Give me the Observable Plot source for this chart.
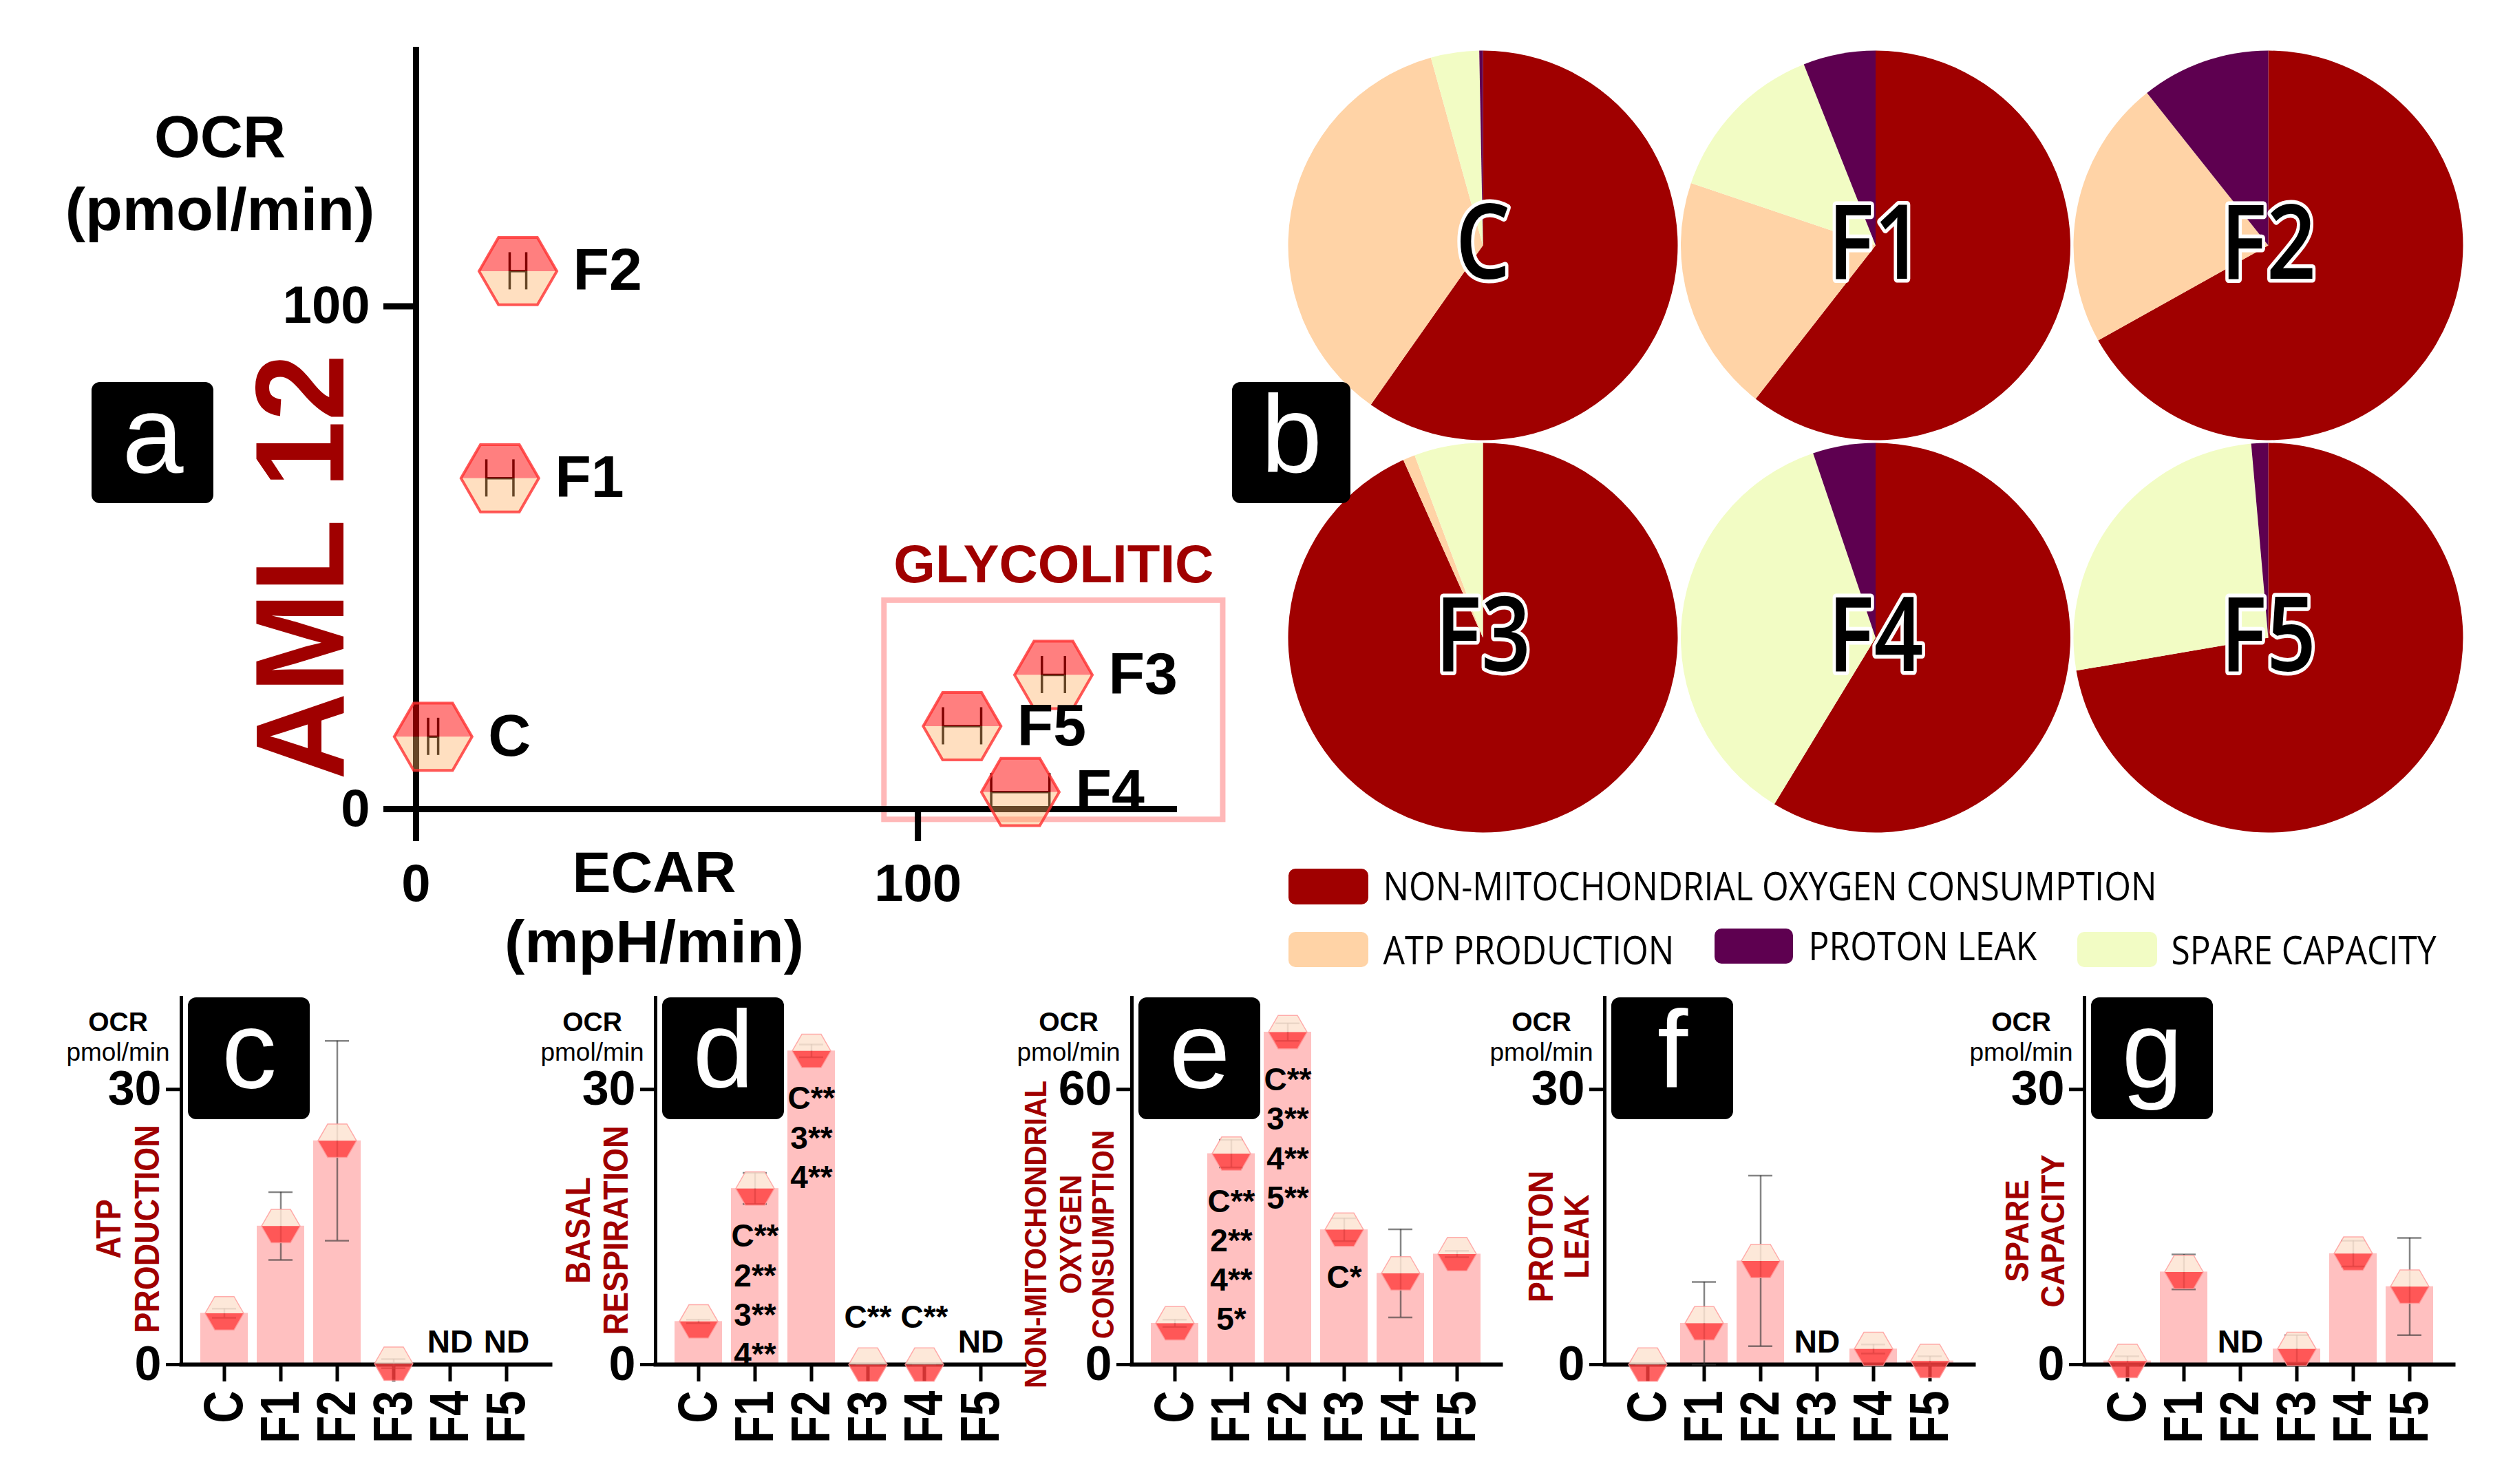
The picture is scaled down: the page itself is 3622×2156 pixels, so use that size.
<!DOCTYPE html>
<html><head><meta charset="utf-8">
<script src="https://cdn.jsdelivr.net/npm/d3@7"></script>
<script src="https://cdn.jsdelivr.net/npm/@observablehq/plot@0.6"></script>
<style>
html,body{margin:0;padding:0;background:#fff;overflow:hidden;}
#fig{position:relative;width:3622px;height:2156px;overflow:hidden;background:#fff;}
#fig > svg{position:absolute;left:0;top:0;}
</style></head><body><div id="fig"></div>
<script>
// ================= DATA =================
const groups = ["C", "F1", "F2", "F3", "F4", "F5"];

// panel a : ECAR (x) vs OCR (y)
const ecar    = [3.4, 16.7, 20.3, 127.0, 120.4, 108.8];
const ecarErr = [1.0, 2.7, 1.65, 2.3, 5.8, 3.8];
const ocr     = [14.4, 65.8, 107.0, 26.7, 3.4, 16.5];
const aTicks  = [0, 100];

// panel b : pies (percent of total OCR)
const pieNonMito = [59.7, 60.5, 66.9, 93.3, 58.7, 72.3];
const pieATP     = [35.9, 19.6, 22.4, 1.0, 0, 0];
const pieSpare   = [4.0, 13.8, 0, 5.7, 36.1, 26.3];
const pieProton  = [0.3, 6.0, 10.7, 0, 5.2, 1.4];
const partNames  = ["NON-MITOCHONDRIAL OXYGEN CONSUMPTION", "ATP PRODUCTION", "PROTON LEAK", "SPARE CAPACITY"];
const partColors = ["#a00000", "#ffd3a6", "#5e0050", "#f2fcc4"];

// panels c-g : OCR (pmol/min), mean and error ; null = ND
const atp        = [5.6, 15.1, 24.4, 0.1, null, null];
const atpErr     = [0.5, 3.7, 10.9, 0.5, null, null];
const basal      = [4.7, 19.2, 34.2, 0, 0, null];
const basalErr   = [0.2, 1.7, 0.7, 0, 0.1, null];
const nonMito    = [9.0, 46.0, 72.5, 29.4, 19.9, 24.1];
const nonMitoErr = [0.8, 3.0, 1.9, 2.5, 9.6, 0.7];
const proton     = [0, 4.5, 11.3, null, 1.7, 0.4];
const protonErr  = [0, 4.5, 9.3, null, 0.5, 0.5];
const spare      = [0.4, 10.1, null, 1.7, 12.1, 8.5];
const spareErr   = [0.5, 1.9, null, 1.5, 1.4, 5.3];

// significance annotations
const basalSig   = [["F1", "C**\n2**\n3**\n4**"], ["F2", "C**\n3**\n4**"], ["F3", "C**"], ["F4", "C**"]];
const nonMitoSig = [["F1", "C**\n2**\n4**\n5*"], ["F2", "C**\n3**\n4**\n5**"], ["F3", "C*"]];

// ================= LAYOUT =================
const W = 3622, H = 2156;
const FONT = "'Liberation Sans', Arial, Helvetica, sans-serif";
const OPEN = "'Open Sans', 'Noto Sans', sans-serif";
const RED = "#a00000";
const fig = document.getElementById("fig");
const baseStyle = {background: "transparent", overflow: "visible", fontFamily: FONT, maxWidth: "none"};

const S3 = Math.sqrt(3) / 2;
const rad = (size) => Math.sqrt(size / Math.PI);
const hexTop = {draw(c, s) {const r = rad(s); c.moveTo(r, 0); c.lineTo(r / 2, -r * S3); c.lineTo(-r / 2, -r * S3); c.lineTo(-r, 0); c.closePath();}};
const hexBot = {draw(c, s) {const r = rad(s); c.moveTo(r, 0); c.lineTo(r / 2, r * S3); c.lineTo(-r / 2, r * S3); c.lineTo(-r, 0); c.closePath();}};
const hexAll = {draw(c, s) {const r = rad(s); c.moveTo(r, 0); c.lineTo(r / 2, r * S3); c.lineTo(-r / 2, r * S3); c.lineTo(-r, 0); c.lineTo(-r / 2, -r * S3); c.lineTo(r / 2, -r * S3); c.closePath();}};
function sector(a0, a1) {
  return {draw(c, s) {const r = rad(s); c.moveTo(0, 0); c.arc(0, 0, r, a0 - Math.PI / 2, a1 - Math.PI / 2); c.closePath();}};
}
// condense text horizontally (in its own frame) after Plot has rendered it;
// texts are picked by their content
function squeeze(svg, labels, sx) {
  const set = new Set(labels);
  d3.select(svg).selectAll("text").each(function () {
    if (!set.has(this.textContent)) return;
    let t = this.getAttribute("transform");
    if (!t) {
      const x = +this.getAttribute("x") || 0, y = +this.getAttribute("y") || 0;
      this.removeAttribute("x"); this.removeAttribute("y");
      t = `translate(${x},${y})`;
    }
    this.setAttribute("transform", `${t} scale(${sx},1)`);
  });
  return svg;
}

// ================= PANEL a =================
const aPts = groups.map((g, i) => ({g, x: ecar[i], y: ocr[i], e: ecarErr[i]}));
const aCaps = aPts.flatMap(d => [{x: d.x - d.e, y: d.y}, {x: d.x + d.e, y: d.y}]);
const glyco = {x1: 93.3, x2: 160.8, y1: -2.1, y2: 41.5, label: "GLYCOLITIC"};
const plotA = Plot.plot({
  width: W, height: H,
  marginLeft: 604, marginRight: W - 1705, marginTop: 72, marginBottom: H - 1175,
  style: baseStyle,
  x: {domain: [0, 151], axis: null},
  y: {domain: [0, 151], axis: null},
  marks: [
    Plot.rect([glyco], {x1: "x1", x2: "x2", y1: "y1", y2: "y2", fill: "none", stroke: "#ffb8b8", strokeWidth: 8}),
    Plot.text([glyco], {x: d => (d.x1 + d.x2) / 2, y: "y2", text: "label", dy: -26, lineAnchor: "bottom", fill: RED, fontSize: 78, fontWeight: "bold"}),
    Plot.frame({anchor: "left", strokeWidth: 9}),
    Plot.frame({anchor: "bottom", strokeWidth: 9}),
    Plot.axisX({ticks: aTicks, tickSize: 47, tickPadding: 33, strokeWidth: 9, fontSize: 76, fontWeight: "bold", label: null, tickFormat: d => d}),
    Plot.axisY({ticks: aTicks, tickSize: 47, tickPadding: 20, strokeWidth: 9, fontSize: 76, fontWeight: "bold", label: null, tickFormat: d => d}),
    Plot.ruleY(aPts, {x1: d => d.x - d.e, x2: d => d.x + d.e, y: "y", stroke: "black", strokeWidth: 3.5}),
    Plot.ruleX(aCaps, {x: "x", y1: "y", y2: "y", insetTop: -27, insetBottom: -27, stroke: "black", strokeWidth: 3.5}),
    Plot.dot(aPts, {x: "x", y: "y", r: 56.5, symbol: hexTop, fill: "#ff0000", fillOpacity: 0.5}),
    Plot.dot(aPts, {x: "x", y: "y", r: 56.5, symbol: hexBot, fill: "#ffaf61", fillOpacity: 0.4}),
    Plot.dot(aPts, {x: "x", y: "y", r: 56.5, symbol: hexAll, fill: "none", stroke: "#ff3030", strokeOpacity: 0.8, strokeWidth: 4}),
    Plot.text(aPts, {x: "x", y: "y", text: "g", dx: 80, textAnchor: "start", fontSize: 86, fontWeight: "bold", fill: "black"})
  ]
});

// ================= PANEL b (pies) =================
const pies = groups.map((g, i) => ({g, col: i % 3, row: Math.floor(i / 3),
  parts: [[pieNonMito[i], partColors[0]], [pieATP[i], partColors[1]], [pieSpare[i], partColors[3]], [pieProton[i], partColors[2]]]}));
const pieMarks = [];
for (const p of pies) {
  const total = d3.sum(p.parts, d => d[0]);
  let a = 0;
  for (const [v, color] of p.parts) {
    if (!v) continue;
    const a1 = a + (v / total) * 2 * Math.PI;
    pieMarks.push(Plot.dot([p], {x: "col", y: "row", r: 283, symbol: sector(a, a1), fill: color}));
    a = a1;
  }
}
const plotB = squeeze(Plot.plot({
  width: W, height: H,
  style: baseStyle,
  x: {domain: [0, 2], range: [2154, 3295], axis: null},
  y: {domain: [0, 1], range: [356, 926], axis: null},
  marks: [
    ...pieMarks,
    Plot.text(pies, {x: "col", y: "row", text: "g", fontSize: 150, fontWeight: 600, fontFamily: OPEN, fill: "black", stroke: "white", strokeWidth: 11, paintOrder: "stroke", lineAnchor: "middle"})
  ]
}), groups, 0.84);

// ================= PANELS c-g =================
const barPanels = [
  {letter: "c", vals: atp, errs: atpErr, max: 40, tick: 30, A: 263, title: ["ATP", "PRODUCTION"], titleDx: [-105, -49], titleY: 1785, titleSize: 50, sig: []},
  {letter: "d", vals: basal, errs: basalErr, max: 40, tick: 30, A: 952, title: ["BASAL", "RESPIRATION"], titleDx: [-112, -57], titleY: 1787, titleSize: 50, sig: basalSig},
  {letter: "e", vals: nonMito, errs: nonMitoErr, max: 80, tick: 60, A: 1644, title: ["NON-MITOCHONDRIAL", "OXYGEN", "CONSUMPTION"], titleDx: [-139, -88, -41], titleY: 1793, titleSize: 45, sig: nonMitoSig},
  {letter: "f", vals: proton, errs: protonErr, max: 40, tick: 30, A: 2331, title: ["PROTON", "LEAK"], titleDx: [-92, -40], titleY: 1796, titleSize: 50, sig: []},
  {letter: "g", vals: spare, errs: spareErr, max: 40, tick: 30, A: 3028, title: ["SPARE", "CAPACITY"], titleDx: [-97, -45], titleY: 1788, titleSize: 49, sig: []}
];
const BASE = 1982, TOP = 1449, PW = 536;

function barPlot(p) {
  const data = groups.map((g, i) => ({g, v: p.vals[i], e: p.errs[i]}));
  const has = data.filter(d => d.v != null);
  const nd = data.filter(d => d.v == null).map(d => ({g: d.g, t: "ND"}));
  const sig = p.sig.map(([g, t]) => ({g, t, v: p.vals[groups.indexOf(g)]}));
  const sigIn = sig.filter(d => d.v >= 2), sigAbove = sig.filter(d => d.v < 2);
  const svg = Plot.plot({
    width: W, height: H,
    marginLeft: p.A, marginRight: W - (p.A + PW), marginTop: TOP, marginBottom: H - BASE,
    style: baseStyle,
    x: {domain: groups, paddingInner: 0.16, paddingOuter: 0, insetLeft: 27, insetRight: 29, axis: null},
    y: {domain: [0, p.max], axis: null},
    marks: [
      Plot.barY(has, {x: "g", y: "v", fill: "#ffc0c0"}),
      Plot.frame({anchor: "left", strokeWidth: 5}),
      Plot.frame({anchor: "bottom", strokeWidth: 6}),
      Plot.axisY({ticks: [0, p.tick], tickSize: 22, tickPadding: 7, strokeWidth: 5, fontSize: 70, fontWeight: "bold", label: null, tickFormat: d => d}),
      Plot.axisX({tickSize: 25, tickPadding: 13, tickRotate: -90, strokeWidth: 5, fontSize: 80, fontWeight: "bold", label: null}),
      Plot.ruleX(has, {x: "g", y1: d => d.v - d.e, y2: d => d.v + d.e, stroke: "#333", strokeOpacity: 0.6, strokeWidth: 2.5}),
      Plot.tickY(has, {x: "g", y: d => d.v + d.e, insetLeft: 17, insetRight: 17, stroke: "#333", strokeOpacity: 0.6, strokeWidth: 2.5}),
      Plot.tickY(has, {x: "g", y: d => d.v - d.e, insetLeft: 17, insetRight: 17, stroke: "#333", strokeOpacity: 0.6, strokeWidth: 2.5}),
      Plot.dot(has, {x: "g", y: "v", r: 28, symbol: hexTop, fill: "#fde4d2", fillOpacity: 0.85}),
      Plot.dot(has, {x: "g", y: "v", r: 28, symbol: hexBot, fill: "#ff4040", fillOpacity: 0.82}),
      Plot.dot(has, {x: "g", y: "v", r: 28, symbol: hexAll, fill: "none", stroke: "#ff9a9a", strokeWidth: 1.5, strokeOpacity: 0.8}),
      Plot.text(nd, {x: "g", y: () => 0, text: "t", dy: -18, lineAnchor: "bottom", fontSize: 46, fontWeight: "bold"}),
      Plot.text(sigIn, {x: "g", y: "v", text: "t", dy: 44, lineAnchor: "top", lineHeight: 1.245, fontSize: 46, fontWeight: "bold"}),
      Plot.text(sigAbove, {x: "g", y: () => 0, text: "t", dy: -54, lineAnchor: "bottom", fontSize: 46, fontWeight: "bold"})
    ]
  });
  squeeze(svg, groups, 0.82);
  return svg;
}

// ================= ANNOTATION LAYER =================
const boxes = [
  {t: "a", x1: 133, x2: 310, y1: 555, y2: 731},
  {t: "b", x1: 1790, x2: 1962, y1: 555, y2: 731},
  ...barPanels.map(p => ({t: p.letter, x1: p.A + 10, x2: p.A + 187, y1: TOP, y2: TOP + 177}))
];
const boldTexts = [
  {t: "OCR", x: 319, y: 227, s: 86},
  {t: "(pmol/min)", x: 319, y: 333, s: 88},
  {t: "ECAR", x: 950, y: 1295, s: 84},
  {t: "(mpH/min)", x: 950, y: 1397, s: 88},
  ...barPanels.map(p => ({t: "OCR", x: p.A - 92, y: 1497, s: 39}))
];
const normalTexts = barPanels.map(p => ({t: "pmol/min", x: p.A - 92, y: 1540, s: 37}));
const yTitles = barPanels.flatMap(p => p.title.map((t, k) => ({t, x: p.A + p.titleDx[k], y: p.titleY, s: p.titleSize})));
const legendItems = partNames.map((name, i) => ({name, color: partColors[i]}));
const legendPos = [
  {x1: 1872, x2: 1988, y1: 1262, y2: 1314, tx: 2009, ty: 1307},
  {x1: 1872, x2: 1988, y1: 1354, y2: 1405, tx: 2009, ty: 1400},
  {x1: 2491, x2: 2605, y1: 1349, y2: 1400, tx: 2627, ty: 1394},
  {x1: 3018, x2: 3134, y1: 1354, y2: 1405, tx: 3154, ty: 1400}
];
const legend = legendItems.map((d, i) => ({...d, ...legendPos[i]}));

const plotAnno = Plot.plot({
  width: W, height: H, margin: 0,
  style: baseStyle,
  x: {type: "identity", axis: null},
  y: {type: "identity", axis: null},
  marks: [
    Plot.rect(boxes, {x1: "x1", x2: "x2", y1: "y1", y2: "y2", fill: "black", rx: 12}),
    Plot.text(boxes, {x: d => (d.x1 + d.x2) / 2, y: d => d.y1 + 130, text: "t", fill: "white", fontSize: 160, lineAnchor: "bottom"}),
    Plot.text(boldTexts, {x: "x", y: "y", text: "t", fontSize: d => d.s, fontWeight: "bold", lineAnchor: "bottom", fill: "black"}),
    Plot.text(normalTexts, {x: "x", y: "y", text: "t", fontSize: d => d.s, lineAnchor: "bottom", fill: "black"}),
    Plot.text([{t: "AML 12"}], {x: () => 440, y: () => 823, text: "t", rotate: -90, fontSize: 184, fontWeight: "bold", fill: RED, lineAnchor: "middle"}),
    Plot.text(yTitles, {x: "x", y: "y", text: "t", rotate: -90, fontSize: d => d.s, fontWeight: "bold", fill: RED, lineAnchor: "middle"}),
    Plot.rect(legend, {x1: "x1", x2: "x2", y1: "y1", y2: "y2", fill: "color", rx: 10}),
    Plot.text(legend, {x: "tx", y: "ty", text: "name", textAnchor: "start", lineAnchor: "bottom", fontSize: 56, fontFamily: OPEN, fill: "black"})
  ]
});
squeeze(plotAnno, yTitles.map(d => d.t), 0.9);
squeeze(plotAnno, ["AML 12"], 0.95);
squeeze(plotAnno, partNames, 0.89);

[plotA, plotB, ...barPanels.map(barPlot), plotAnno].forEach(p => fig.appendChild(p));
</script></body></html>
